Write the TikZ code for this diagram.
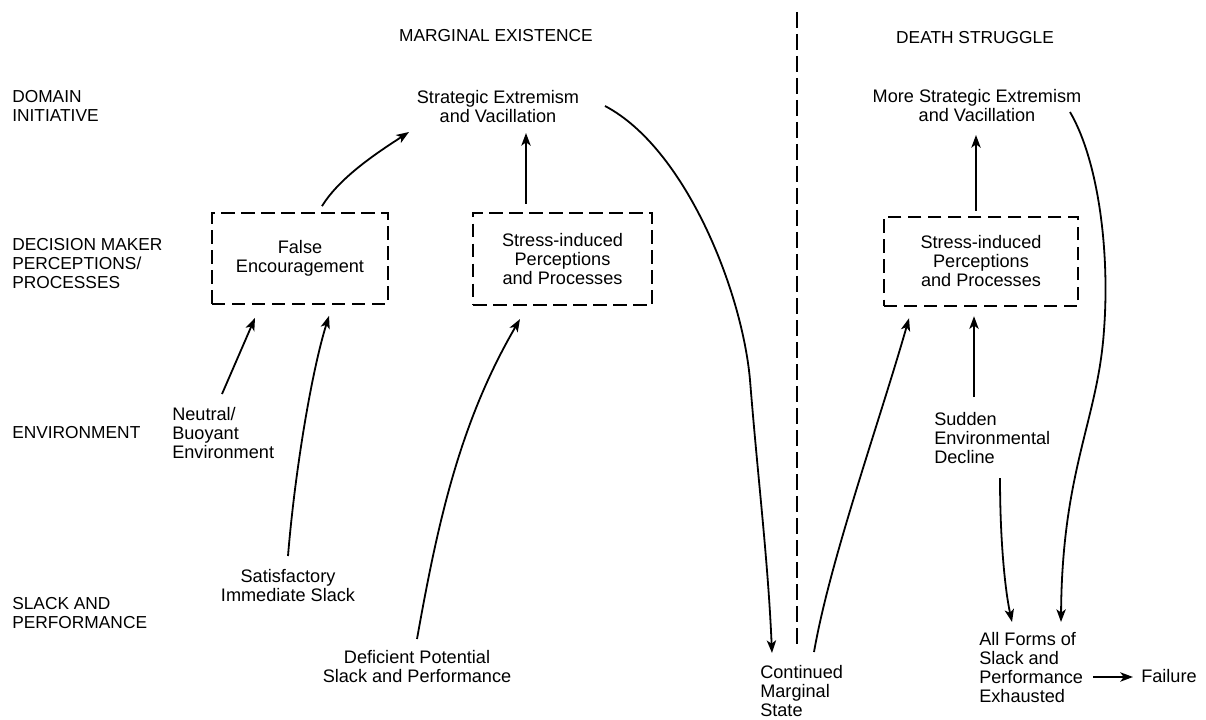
\documentclass[tikz,border=0pt]{standalone}
\usepackage{fontspec}
\setmainfont{Liberation Sans}
\usetikzlibrary{arrows.meta,calc}
\tikzset{
  lab/.style={font=\fontsize{13}{14.25}\selectfont, align=left, anchor=west, inner sep=0pt},
  txt/.style={font=\fontsize{13.6}{14.25}\selectfont, align=center, inner sep=0pt},
  ltxt/.style={font=\fontsize{13.6}{14.25}\selectfont, align=left, anchor=west, inner sep=0pt},
  dbox/.style={txt, draw, line width=1.6pt, dash pattern=on 10pt off 5pt},
  conn/.style={line width=1.35pt, -{Stealth[length=9.5pt,width=7pt,inset=2.5pt]}},
  divider/.style={line width=1.4pt, dash pattern=on 12pt off 4.5pt}
}
\begin{document}
\begin{tikzpicture}[x=0.75pt,y=-0.75pt]
\useasboundingbox (0,0) rectangle (1206,720);

% titles
\node[txt, font=\fontsize{13}{14.25}\selectfont] (t1) at (496,36) {MARGINAL EXISTENCE};
\node[txt, font=\fontsize{13}{14.25}\selectfont] (t2) at (975,38) {DEATH STRUGGLE};

% row labels
\node[lab] (l1) at (12,106) {DOMAIN\\INITIATIVE};
\node[lab] (l2) at (12,264) {DECISION MAKER\\PERCEPTIONS/\\PROCESSES};
\node[lab] (l3) at (12,433) {ENVIRONMENT};
\node[lab] (l4) at (12,613) {SLACK AND\\PERFORMANCE};

% nodes
\node[txt] (se1) at (498,107) {Strategic Extremism\\and Vacillation};
\node[txt] (se2) at (977,106) {More Strategic Extremism\\and Vacillation};
\node[dbox, minimum width=132pt, minimum height=68pt] (box1) at (300,258.5) {False\\Encouragement};
\node[dbox, minimum width=134pt, minimum height=69pt] (box2) at (562.5,259) {Stress-induced\\Perceptions\\and Processes};
\node[dbox, minimum width=145.5pt, minimum height=67pt] (box3) at (981,261.5) {Stress-induced\\Perceptions\\and Processes};
\node[ltxt] (neutral) at (172,433) {Neutral/\\Buoyant\\Environment};
\node[txt] (satisf) at (288,586) {Satisfactory\\Immediate Slack};
\node[txt] (deficient) at (417,667) {Deficient Potential\\Slack and Performance};
\node[ltxt] (cont) at (760,691) {Continued\\Marginal\\State};
\node[ltxt] (sudden) at (934,438) {Sudden\\Environmental\\Decline};
\node[ltxt] (allforms) at (979,668) {All Forms of\\Slack and\\Performance\\Exhausted};
\node[ltxt] (failure) at (1141,676) {Failure};

% divider
\draw[divider] (797,12) -- (797,650);

% connectors
\draw[conn] ($(box1.north)+(22,-6)$) .. controls ($(box1.north)+(40.5,-36)$) and ($(se1)+(-118,44)$) .. ($(se1)+(-89,25)$);
\draw[conn] ($(box2.north)+(-36.5,-8)$) -- ($(se1)+(28,26)$);
\draw[conn] ($(se1)+(107,-1)$) .. controls (685,148) and (742,290) .. (750,380)
   .. controls (758,480) and (768,560) .. ($(cont.west)+(12,-38)$);
\draw[conn] ($(cont.west)+(54,-39)$) .. controls (830,560) and (880,420) .. ($(box3.south)+(-72,11)$);
\draw[conn] ($(box3.north)+(-5,-5)$) -- ($(se2)+(-1,29)$);
\draw[conn] ($(sudden.west)+(40,-41)$) -- ($(box3.south)+(-7,9)$);
\draw[conn] ($(sudden.west)+(66,40)$) .. controls (1000,540) and (1005,590) .. ($(allforms.west)+(33,-46)$);
\draw[conn] ($(se2)+(93,6)$) .. controls (1098,160) and (1110,250) .. (1104,330)
   .. controls (1098,420) and (1062,470) .. ($(allforms.west)+(82,-46)$);
\draw[conn] ($(allforms.west)+(114,9)$) -- ($(failure.west)+(-8,1)$);
\draw[conn] ($(neutral.west)+(50,-39)$) -- ($(box1.south)+(-45,13)$);
\draw[conn] ($(satisf)+(0,-30)$) .. controls (295,470) and (312,370) .. ($(box1.south)+(29,11)$);
\draw[conn] ($(deficient)+(0,-28)$) .. controls (438,521) and (460,422) .. ($(box2.south)+(-42.5,13)$);
\end{tikzpicture}
\end{document}
